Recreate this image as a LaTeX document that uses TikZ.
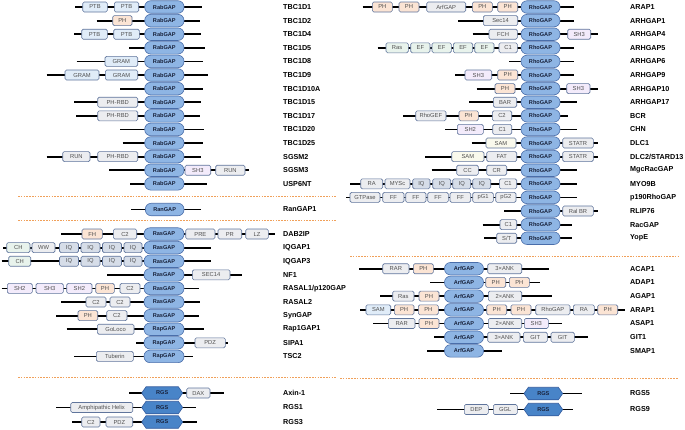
\documentclass[tikz,border=0pt]{standalone}
\usepackage{fontspec}
\setmainfont{Liberation Sans}
\usetikzlibrary{shapes.symbols}

\definecolor{domline}{RGB}{96,117,156}
\definecolor{domtext}{RGB}{80,80,80}
\definecolor{fgrey}{RGB}{236,237,240}
\definecolor{fblue}{RGB}{224,236,248}
\definecolor{fph}{RGB}{251,228,212}
\definecolor{fsh}{RGB}{243,235,251}
\definecolor{fiq}{RGB}{214,221,232}
\definecolor{fmint}{RGB}{232,243,236}
\definecolor{fcream}{RGB}{249,249,236}
\definecolor{gapfill}{RGB}{142,181,228}
\definecolor{gapline}{RGB}{74,110,170}
\definecolor{gaptext}{RGB}{25,35,60}
\definecolor{rgsfill}{RGB}{72,132,200}
\definecolor{rgsline}{RGB}{52,92,158}
\definecolor{sepcol}{RGB}{240,160,90}

\tikzset{
  backbone/.style={line width=1.8pt},
  dom/.style={draw=domline, line width=0.6pt, rounded corners=1.5pt,
    minimum height=10pt, inner sep=0pt, text=domtext,
    font=\fontsize{5.8}{6}\selectfont},
  boxgrey/.style={dom, fill=fgrey},
  boxblue/.style={dom, fill=fblue},
  boxph/.style={dom, fill=fph},
  boxsh/.style={dom, fill=fsh},
  boxiq/.style={dom, fill=fiq},
  boxmint/.style={dom, fill=fmint},
  boxcream/.style={dom, fill=fcream},
  gapdom/.style={draw=gapline, line width=0.6pt, fill=gapfill,
    rounded corners=6pt, minimum height=12.5pt, inner sep=0pt,
    text=gaptext, font=\bfseries\fontsize{5.6}{6}\selectfont},
  rgsdom/.style={signal, signal to=east and west, signal pointer angle=110,
    draw=rgsline, line width=0.6pt, fill=rgsfill, minimum height=12.5pt,
    inner sep=0pt, text=gaptext, font=\bfseries\fontsize{5.6}{6}\selectfont},
  protlabel/.style={anchor=west, inner sep=0pt,
    font=\bfseries\fontsize{7.2}{8}\selectfont},
  sepline/.style={draw=sepcol, line width=0.6pt, dash pattern=on 1.6pt off 1.2pt},
}

% backbone + name of one protein: id, label x, y, left end, right end, name
\newcommand{\protein}[6]{%
  \coordinate (#1-l) at (#4,#3);
  \coordinate (#1-r) at (#5,#3);
  \draw[backbone] (#1-l) -- (#1-r);
  \node[protlabel] (#1) at (#2,#3) {#6};
}
% domains on a backbone: id, y, list of style/from/to/text
\newcommand{\domains}[3]{%
  \foreach \s/\a/\b/\t [count=\k] in {#3}
    \node[\s, minimum width={\b-\a}] (#1-\k) at ({(\a+\b)/2},#2) {\t};
}

\begin{document}
\begin{tikzpicture}[x=1pt, y=-1pt]
  \useasboundingbox[fill=white] (0,0) rectangle (685,429);

  % RabGAP family
  \protein{tbcda}{283}{7}{75}{201.7}{TBC1D1}
  \domains{tbcda}{7}{boxblue/82.7/107.3/PTB, boxblue/114.3/138.7/PTB, gapdom/144.7/184/RabGAP}
  \protein{tbcdb}{283}{20.6}{96.7}{200}{TBC1D2}
  \domains{tbcdb}{20.6}{boxph/112.7/132/PH, gapdom/144.7/184/RabGAP}
  \protein{tbcdd}{283}{34.2}{74}{201}{TBC1D4}
  \domains{tbcdd}{34.2}{boxblue/81.7/107.3/PTB, boxblue/113.7/139.3/PTB, gapdom/144.7/184/RabGAP}
  \protein{tbcde}{283}{47.8}{129}{205}{TBC1D5}
  \domains{tbcde}{47.8}{gapdom/144.7/184/RabGAP}
  \protein{tbcdh}{283}{61.4}{76.7}{202.7}{TBC1D8}
  \domains{tbcdh}{61.4}{boxblue/105/137.7/GRAM, gapdom/144.7/184/RabGAP}
  \protein{tbcdi}{283}{75}{46.7}{208.3}{TBC1D9}
  \domains{tbcdi}{75}{boxblue/65/99/GRAM, boxblue/105.3/137.7/GRAM, gapdom/144.7/184/RabGAP}
  \protein{tbcdj}{283}{88.6}{120}{203.3}{TBC1D10A}
  \domains{tbcdj}{88.6}{gapdom/144.7/184/RabGAP}
  \protein{tbcdo}{283}{102.2}{74}{200.7}{TBC1D15}
  \domains{tbcdo}{102.2}{boxgrey/97.7/137.7/PH-RBD, gapdom/144.7/184/RabGAP}
  \protein{tbcdq}{283}{115.8}{76}{200}{TBC1D17}
  \domains{tbcdq}{115.8}{boxgrey/97.7/137.7/PH-RBD, gapdom/144.7/184/RabGAP}
  \protein{tbcdt}{283}{129.4}{120}{204}{TBC1D20}
  \domains{tbcdt}{129.4}{gapdom/144.7/184/RabGAP}
  \protein{tbcdy}{283}{143}{122.7}{203.3}{TBC1D25}
  \domains{tbcdy}{143}{gapdom/144.7/184/RabGAP}
  \protein{sgsmb}{283}{156.6}{46.7}{200.7}{SGSM2}
  \domains{sgsmb}{156.6}{boxgrey/62.7/90/RUN, boxgrey/97.7/137.7/PH-RBD, gapdom/144.7/184/RabGAP}
  \protein{sgsmc}{283}{170.2}{109.3}{249.3}{SGSM3}
  \domains{sgsmc}{170.2}{gapdom/144.7/184/RabGAP, boxsh/185/210.7/SH3, boxgrey/215.7/245/RUN}
  \protein{uspnt}{283}{183.8}{130}{206.7}{USP6NT}
  \domains{uspnt}{183.8}{gapdom/144.7/184/RabGAP}

  % RanGAP
  \draw[sepline] (18,196) -- (336,196);
  \protein{rangap}{283}{209.5}{131}{201}{RanGAP1}
  \domains{rangap}{209.5}{gapdom/145.3/184/RanGAP}
  \draw[sepline] (18,220.5) -- (336,220.5);

  % RasGAP and RapGAP families
  \protein{dab}{283}{234}{61}{275}{DAB2IP}
  \domains{dab}{234}{boxph/82/102.3/FH, boxgrey/113.3/136.7/C2, gapdom/144/184/RasGAP,
    boxgrey/185.7/215/PRE, boxgrey/218/241.7/PR, boxgrey/245.7/268.3/LZ}
  \protein{iqa}{283}{247.6}{3.3}{210.7}{IQGAP1}
  \domains{iqa}{247.6}{boxmint/6.7/30/CH, boxgrey/32/55/WW, boxiq/59.5/78.5/IQ, boxiq/81/100/IQ,
    boxiq/102.5/121.5/IQ, boxiq/124/142/IQ, gapdom/144/184/RasGAP}
  \protein{iqc}{283}{261.2}{1.7}{210.7}{IQGAP3}
  \domains{iqc}{261.2}{boxmint/8.7/30.7/CH, boxiq/59.5/78.5/IQ, boxiq/81/100/IQ,
    boxiq/102.5/121.5/IQ, boxiq/124/142/IQ, gapdom/144/184/RasGAP}
  \protein{nf}{283}{274.8}{107.3}{241.7}{NF1}
  \domains{nf}{274.8}{gapdom/144/184/RasGAP, boxgrey/192.3/230/SEC14}
  \protein{rasala}{283}{288.4}{1.7}{199.3}{RASAL1/p120GAP}
  \domains{rasala}{288.4}{boxsh/7.3/32.3/SH2, boxsh/36/63.3/SH3, boxsh/66.7/92/SH2,
    boxph/95.7/114.3/PH, boxgrey/120/140/C2, gapdom/144/184/RasGAP}
  \protein{rasalb}{283}{302}{61}{200}{RASAL2}
  \domains{rasalb}{302}{boxgrey/86/106/C2, boxgrey/110/130/C2, gapdom/144/184/RasGAP}
  \protein{syn}{283}{315.6}{56}{199.3}{SynGAP}
  \domains{syn}{315.6}{boxph/78/97.7/PH, boxgrey/106.7/127/C2, gapdom/144/184/RasGAP}
  \protein{rapa}{283}{329.2}{66.7}{204}{Rap1GAP1}
  \domains{rapa}{329.2}{boxgrey/97.3/134/GoLoco, gapdom/144/184/RapGAP}
  \protein{sipa}{283}{342.8}{136}{228.3}{SIPA1}
  \domains{sipa}{342.8}{gapdom/144/184/RapGAP, boxgrey/195/225.3/PDZ}
  \protein{tsc}{283}{356.4}{74}{192.7}{TSC2}
  \domains{tsc}{356.4}{boxgrey/96.3/133.3/Tuberin, gapdom/144/184/RapGAP}

  % RGS family (left)
  \draw[sepline] (18,377) -- (336,377);
  \protein{axin}{283}{393}{129.3}{224}{Axin-1}
  \domains{axin}{393}{rgsdom/141.7/182.7/RGS, boxgrey/186.7/210/DAX}
  \protein{rgsa}{283}{407.5}{56}{196}{RGS1}
  \domains{rgsa}{407.5}{boxgrey/70.7/132.7/Amphipathic Helix, rgsdom/141.7/182.7/RGS}
  \protein{rgsc}{283}{422}{72}{196.7}{RGS3}
  \domains{rgsc}{422}{boxgrey/81.7/100/C2, boxgrey/106/132.7/PDZ, rgsdom/141.7/182.7/RGS}

  % RhoGAP family
  \protein{arapr}{630}{7}{362.7}{574.3}{ARAP1}
  \domains{arapr}{7}{boxph/372.3/392.3/PH, boxph/399/419/PH, boxgrey/426.7/465.7/ArfGAP,
    boxph/472.3/492.3/PH, boxph/497.7/517.7/PH, gapdom/521/560/RhoGAP}
  \protein{rha}{630}{20.6}{458.3}{574.3}{ARHGAP1}
  \domains{rha}{20.6}{boxgrey/483.3/517.7/Sec14, gapdom/521/560/RhoGAP}
  \protein{rhd}{630}{34.2}{472.7}{598.3}{ARHGAP4}
  \domains{rhd}{34.2}{boxgrey/489/517.3/FCH, gapdom/521/560/RhoGAP, boxsh/567.7/590.7/SH3}
  \protein{rhe}{630}{47.8}{377.7}{574.3}{ARHGAP5}
  \domains{rhe}{47.8}{boxmint/386/408.3/Ras, boxmint/410.7/430/EF, boxmint/432/451.3/EF,
    boxmint/453.3/472.7/EF, boxmint/474.7/494/EF, boxgrey/499/517.3/C1, gapdom/521/560/RhoGAP}
  \protein{rhf}{630}{61.4}{509.3}{574.3}{ARHGAP6}
  \domains{rhf}{61.4}{gapdom/521/560/RhoGAP}
  \protein{rhi}{630}{75}{455}{574.3}{ARHGAP9}
  \domains{rhi}{75}{boxsh/465/491.7/SH3, boxph/497.7/517.7/PH, gapdom/521/560/RhoGAP}
  \protein{rhj}{630}{88.6}{476.7}{598.3}{ARHGAP10}
  \domains{rhj}{88.6}{boxph/495/515/PH, gapdom/521/560/RhoGAP, boxsh/566.7/590/SH3}
  \protein{rhq}{630}{102.2}{469.3}{577.3}{ARHGAP17}
  \domains{rhq}{102.2}{boxgrey/493.3/516.7/BAR, gapdom/521/560/RhoGAP}
  \protein{bcr}{630}{115.8}{403.3}{567.7}{BCR}
  \domains{bcr}{115.8}{boxgrey/415.7/446/RhoGEF, boxph/459/478.3/PH, boxgrey/492.3/511.7/C2,
    gapdom/521/560/RhoGAP}
  \protein{chn}{630}{129.4}{445.3}{576.7}{CHN}
  \domains{chn}{129.4}{boxsh/457.3/483.3/SH2, boxgrey/492.7/511.7/C1, gapdom/521/560/RhoGAP}
  \protein{dlca}{630}{143}{471.7}{598.3}{DLC1}
  \domains{dlca}{143}{boxcream/486/516/SAM, gapdom/521/560/RhoGAP, boxgrey/562.7/593.3/STATR}
  \protein{dlcb}{630}{156.6}{425}{598.3}{DLC2/STARD13}
  \domains{dlcb}{156.6}{boxcream/451.7/484/SAM, boxgrey/486.7/516.7/FAT, gapdom/521/560/RhoGAP,
    boxgrey/562.7/593.3/STATR}
  \protein{mgc}{630}{170.2}{431.7}{577.3}{MgcRacGAP}
  \domains{mgc}{170.2}{boxgrey/456.7/478.3/CC, boxgrey/486.7/506.7/CR, gapdom/521/560/RhoGAP}
  \protein{myo}{630}{183.8}{350}{577.3}{MYO9B}
  \domains{myo}{183.8}{boxgrey/360.7/382.7/RA, boxgrey/385/410/MYSc, boxiq/412.7/430/IQ,
    boxiq/432.7/450.7/IQ, boxiq/452.7/470.7/IQ, boxiq/472.7/490.7/IQ, boxgrey/499.3/516.7/C1,
    gapdom/521/560/RhoGAP}
  \protein{prho}{630}{197.4}{346}{577.3}{p190RhoGAP}
  \domains{prho}{197.4}{boxgrey/350/380/GTPase, boxgrey/382.7/404/FF, boxgrey/405.7/426/FF,
    boxgrey/427.7/448.3/FF, boxgrey/450/470.7/FF, boxgrey/472.7/493.3/pG1,
    boxgrey/495.7/516/pG2, gapdom/521/560/RhoGAP}
  \protein{rlip}{630}{211}{504.3}{598.3}{RLIP76}
  \domains{rlip}{211}{gapdom/521/560/RhoGAP, boxgrey/562.7/593.3/Ral BR}
  \protein{racg}{630}{224.6}{482.7}{571.7}{RacGAP}
  \domains{racg}{224.6}{boxgrey/500/516.7/C1, gapdom/521/560/RhoGAP}
  \protein{yope}{630}{238.2}{484.3}{571.7}{YopE}
  \domains{yope}{238.2}{boxgrey/496.7/516.7/{S/T}, gapdom/521/560/RhoGAP}

  % ArfGAP family
  \draw[sepline] (350,256) -- (678,256);
  \protein{acap}{630}{268.7}{359.3}{549}{ACAP1}
  \domains{acap}{268.7}{boxgrey/382.7/409/RAR, boxph/413.3/433.3/PH, gapdom/444.5/483.5/ArfGAP,
    boxgrey/487.7/521.7/3×ANK}
  \protein{adap}{630}{282.4}{430}{540}{ADAP1}
  \domains{adap}{282.4}{gapdom/444.5/483.5/ArfGAP, boxph/485.7/505.7/PH, boxph/509.3/529.3/PH}
  \protein{agap}{630}{296.1}{380}{551.7}{AGAP1}
  \domains{agap}{296.1}{boxgrey/392.7/414/Ras, boxph/419/439/PH, gapdom/444.5/483.5/ArfGAP,
    boxgrey/488.3/521.7/2×ANK}
  \protein{arapa}{630}{309.8}{360}{625}{ARAP1}
  \domains{arapa}{309.8}{boxblue/366/390.7/SAM, boxph/394.3/414/PH, boxph/418.3/438.3/PH,
    gapdom/444.5/483.5/ArfGAP, boxph/486.7/506.7/PH, boxph/511/531/PH,
    boxgrey/535.7/570/RhoGAP, boxgrey/573.3/594.3/RA, boxph/597.7/617.7/PH}
  \protein{asap}{630}{323.5}{373.3}{561.7}{ASAP1}
  \domains{asap}{323.5}{boxgrey/388.3/415/RAR, boxph/419/439/PH, gapdom/444.5/483.5/ArfGAP,
    boxgrey/488.3/521.7/2×ANK, boxsh/524.3/548.3/SH3}
  \protein{git}{630}{337.2}{434}{587.7}{GIT1}
  \domains{git}{337.2}{gapdom/444.5/483.5/ArfGAP, boxgrey/487.7/520/3×ANK,
    boxgrey/523.3/547.3/GIT, boxgrey/551/574.3/GIT}
  \protein{smap}{630}{350.9}{427.3}{502.3}{SMAP1}
  \domains{smap}{350.9}{gapdom/444.5/483.5/ArfGAP}

  % RGS family (right)
  \draw[sepline] (340,378) -- (678,378);
  \protein{rgse}{630}{393.5}{510}{581.7}{RGS5}
  \domains{rgse}{393.5}{rgsdom/524/562.7/RGS}
  \protein{rgsi}{630}{409.5}{437.3}{573.3}{RGS9}
  \domains{rgsi}{409.5}{boxgrey/464.3/488.3/DEP, boxgrey/493.3/517.3/GGL, rgsdom/524/562.7/RGS}
\end{tikzpicture}
\end{document}
